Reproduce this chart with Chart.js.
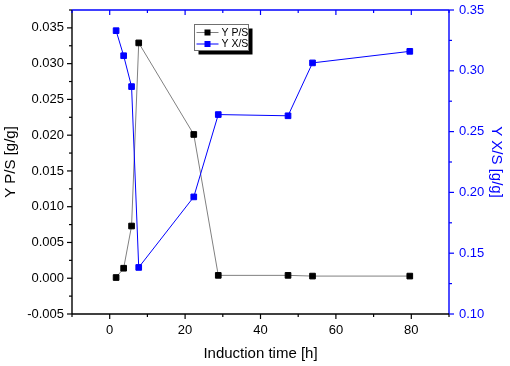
<!DOCTYPE html>
<html>
<head>
<meta charset="utf-8">
<script src="https://cdn.jsdelivr.net/npm/chart.js@4"></script>
<style>
html, body { margin: 0; padding: 0; background: #fff; }
canvas { display: block; }
</style>
</head>
<body>
<canvas id="chart" width="510" height="366"></canvas>
<script>
"use strict";

// ── Data ────────────────────────────────────────────────────────────────────
const inductionTime = [1.7, 3.7, 5.8, 7.7, 22.3, 28.8, 47.3, 53.8, 79.6];
const yPS = [0.0001, 0.0014, 0.0073, 0.0329, 0.0201, 0.0004, 0.0004, 0.0003, 0.0003];
const yXS = [0.333, 0.3124, 0.287, 0.1383, 0.1963, 0.264, 0.263, 0.3065, 0.316];

// ── Tick labels ─────────────────────────────────────────────────────────────
const xTicks = [0, 20, 40, 60, 80];
const yPSTicks = [-0.005, 0, 0.005, 0.01, 0.015, 0.02, 0.025, 0.03, 0.035];
const yXSTicks = [0.10, 0.15, 0.20, 0.25, 0.30, 0.35];

const BLACK = "#000000";
const GREY = "#808080";
const BLUE = "#0000ff";
const FONT = "'Liberation Sans', Arial, sans-serif";

function pts(xs, ys) { return xs.map((x, i) => ({ x, y: ys[i] })); }

function midpoints(arr, lo, hi) {
  const step = arr[1] - arr[0];
  const out = [];
  for (let v = arr[0] - step / 2; v <= hi + 1e-9; v += step) {
    if (v >= lo - 1e-9) out.push(v);
  }
  return out;
}

// ── Frame + tick marks (Origin style) ───────────────────────────────────────
const frameTicks = {
  id: "frameTicks",
  afterDraw(chart) {
    const { ctx, chartArea: a, scales } = chart;
    const sx = scales.x, sl = scales.yPS, sr = scales.yXS;
    const seg = (x1, y1, x2, y2, c) => {
      ctx.strokeStyle = c;
      ctx.beginPath(); ctx.moveTo(x1, y1); ctx.lineTo(x2, y2); ctx.stroke();
    };
    ctx.save();
    ctx.lineWidth = 1.4;
    seg(a.left, a.top, a.right, a.top, BLUE);
    seg(a.right, a.top, a.right, a.bottom, BLUE);
    seg(a.left, a.top, a.left, a.bottom, BLACK);
    seg(a.left, a.bottom, a.right, a.bottom, BLACK);

    ctx.lineWidth = 1.2;
    const xMinor = midpoints(xTicks, sx.min, sx.max);
    xTicks.forEach(v => {
      const p = sx.getPixelForValue(v);
      seg(p, a.bottom, p, a.bottom + 5, BLACK);
      seg(p, a.top, p, a.top + 5, BLUE);
    });
    xMinor.forEach(v => {
      const p = sx.getPixelForValue(v);
      seg(p, a.bottom, p, a.bottom + 3, BLACK);
      seg(p, a.top, p, a.top + 3, BLUE);
    });
    yPSTicks.forEach(v => {
      const p = sl.getPixelForValue(v);
      seg(a.left - 5, p, a.left, p, BLACK);
    });
    midpoints(yPSTicks, sl.min, sl.max).forEach(v => {
      const p = sl.getPixelForValue(v);
      seg(a.left - 3, p, a.left, p, BLACK);
    });
    yXSTicks.forEach(v => {
      const p = sr.getPixelForValue(v);
      seg(a.right, p, a.right + 5, p, BLUE);
    });
    midpoints(yXSTicks, sr.min, sr.max).forEach(v => {
      const p = sr.getPixelForValue(v);
      seg(a.right, p, a.right + 3, p, BLUE);
    });
    ctx.restore();
  }
};

// ── Legend box with drop shadow ─────────────────────────────────────────────
const boxLegend = {
  id: "boxLegend",
  afterDraw(chart) {
    const { ctx } = chart;
    const bx = 194.5, by = 24.5, bw = 54, bh = 26;
    ctx.save();
    ctx.fillStyle = BLACK;
    ctx.fillRect(bx + 4, by + 4, bw, bh);
    ctx.fillStyle = "#fff";
    ctx.fillRect(bx, by, bw, bh);
    ctx.strokeStyle = "#707070";
    ctx.lineWidth = 1;
    ctx.strokeRect(bx, by, bw, bh);
    ctx.font = "10.5px " + FONT;
    ctx.textBaseline = "middle";
    const rows = [chart.data.datasets[1], chart.data.datasets[0]];
    rows.forEach((ds, i) => {
      const y = by + 8 + i * 11.5;
      ctx.strokeStyle = ds.borderColor;
      ctx.lineWidth = 1;
      ctx.beginPath(); ctx.moveTo(bx + 2, y); ctx.lineTo(bx + 24, y); ctx.stroke();
      ctx.fillStyle = ds.pointBackgroundColor;
      ctx.fillRect(bx + 10, y - 3, 6, 6);
      ctx.fillStyle = BLACK;
      ctx.fillText(ds.label, bx + 27, y + 0.5);
    });
    ctx.restore();
  }
};

function fixY(w) {
  return s => { s.width = w; s.paddingTop = 0; s.paddingBottom = 0; };
}

new Chart(document.getElementById("chart"), {
  type: "scatter",
  data: {
    datasets: [
      {
        label: "Y X/S",
        data: pts(inductionTime, yXS),
        yAxisID: "yXS",
        showLine: true,
        borderColor: BLUE,
        borderWidth: 1,
        pointStyle: "rect",
        pointRadius: 4,
        pointBorderWidth: 1,
        pointBackgroundColor: BLUE,
        pointBorderColor: BLUE,
      },
      {
        label: "Y P/S",
        data: pts(inductionTime, yPS),
        yAxisID: "yPS",
        showLine: true,
        borderColor: GREY,
        borderWidth: 1,
        pointStyle: "rect",
        pointRadius: 4,
        pointBorderWidth: 1,
        pointBackgroundColor: BLACK,
        pointBorderColor: BLACK,
      },
    ],
  },
  options: {
    responsive: false,
    animation: false,
    events: [],
    layout: { padding: { top: 10, left: 0, right: 0, bottom: 0 } },
    plugins: { legend: { display: false }, tooltip: { enabled: false } },
    scales: {
      x: {
        type: "linear",
        position: "bottom",
        min: -10, max: 90,
        afterBuildTicks: s => { s.ticks = xTicks.map(v => ({ value: v })); },
        afterFit: s => { s.height = 52; s.paddingLeft = 0; s.paddingRight = 0; },
        grid: { display: false, drawTicks: false },
        border: { display: false },
        ticks: { padding: 9, color: BLACK, font: { family: FONT, size: 13 }, maxRotation: 0 },
        title: { display: true, text: "Induction time [h]", color: BLACK,
                 font: { family: FONT, size: 15 }, padding: { top: 0, bottom: 3 } },
      },
      yPS: {
        type: "linear",
        position: "left",
        min: -0.005, max: 0.0375,
        afterBuildTicks: s => { s.ticks = yPSTicks.map(v => ({ value: v })); },
        afterFit: fixY(72),
        grid: { display: false, drawTicks: false },
        border: { display: false },
        ticks: { padding: 8, color: BLACK, font: { family: FONT, size: 13 },
                 callback: v => v.toFixed(3) },
        title: { display: true, text: "Y P/S [g/g]", color: BLACK,
                 font: { family: FONT, size: 15 }, padding: { top: 2, bottom: 0 } },
      },
      yXS: {
        type: "linear",
        position: "right",
        min: 0.10, max: 0.35,
        afterBuildTicks: s => { s.ticks = yXSTicks.map(v => ({ value: v })); },
        afterFit: fixY(61),
        grid: { display: false, drawTicks: false },
        border: { display: false },
        ticks: { padding: 10, color: BLUE, font: { family: FONT, size: 13 },
                 callback: v => v.toFixed(2) },
        title: { display: true, text: "Y X/S [g/g]", color: BLUE,
                 font: { family: FONT, size: 15 }, padding: { top: 5, bottom: 0 } },
      },
    },
  },
  plugins: [frameTicks, boxLegend],
});
</script>
</body>
</html>
